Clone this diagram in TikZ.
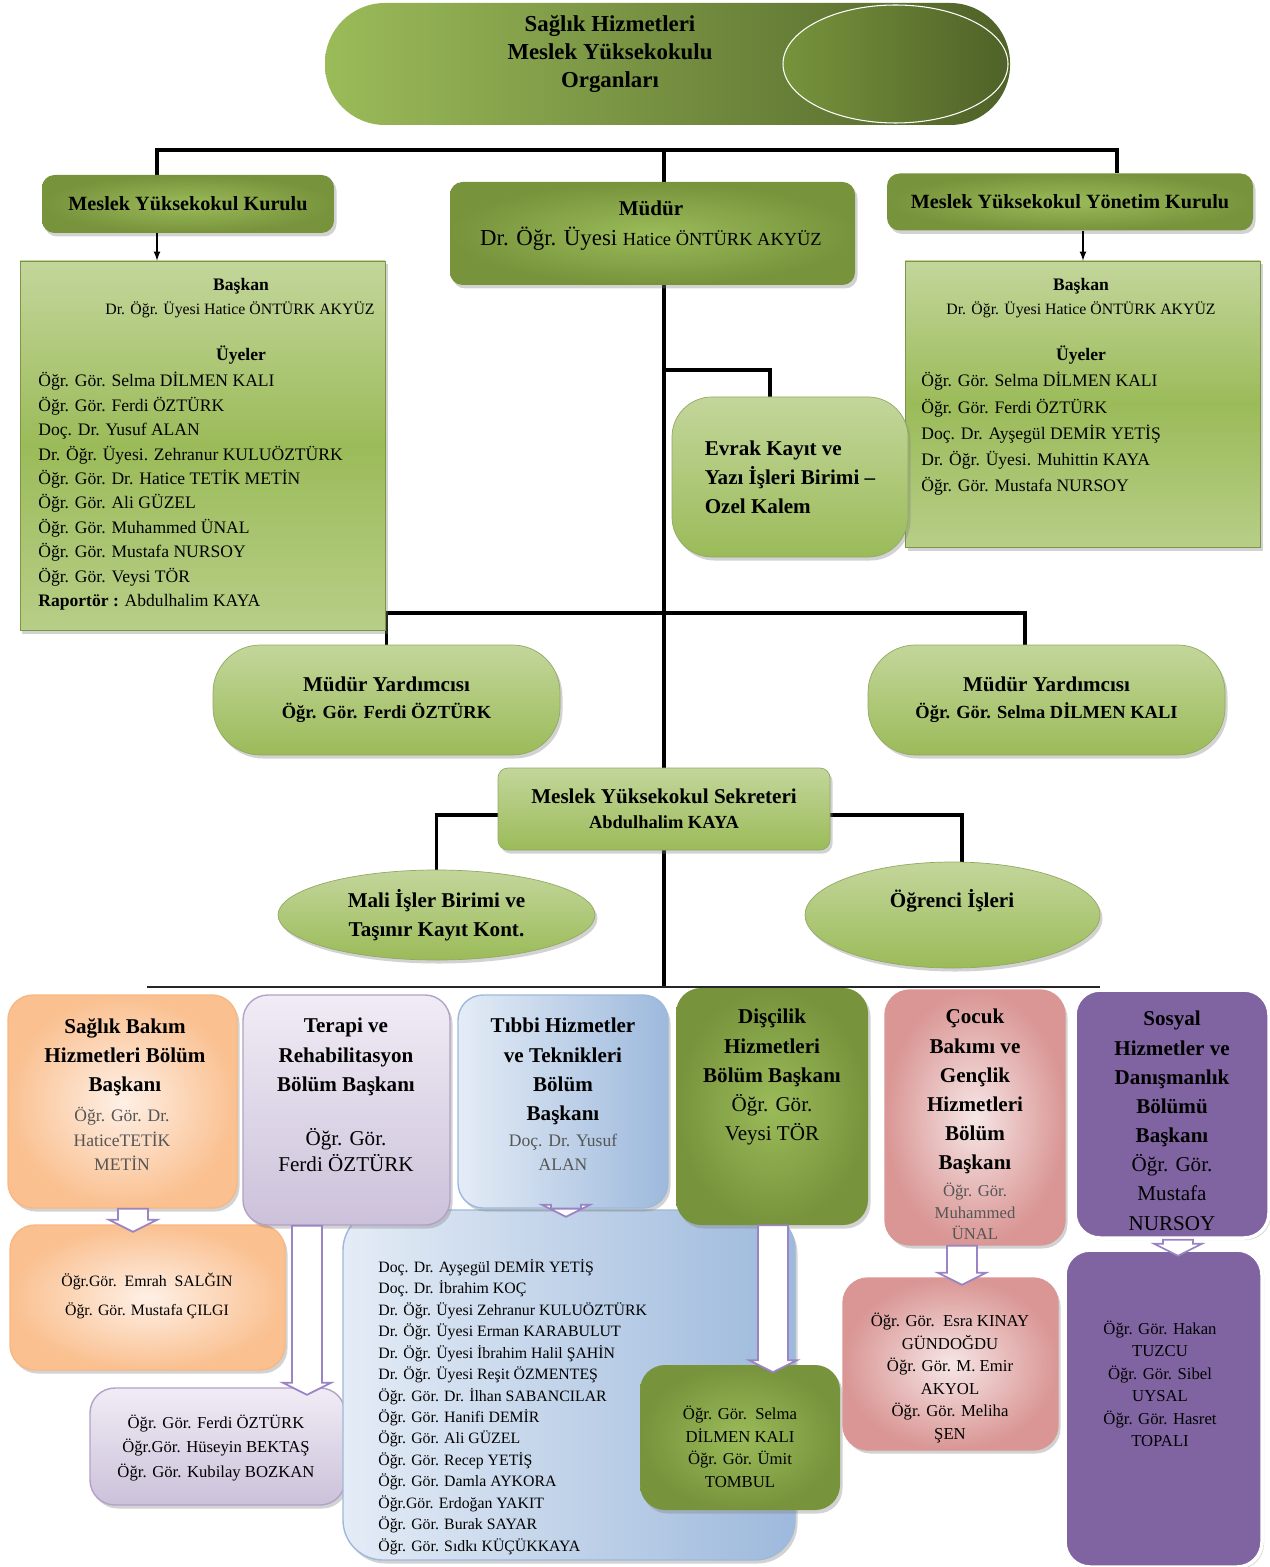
\documentclass[tikz,border=0pt]{standalone}
\usepackage{fontspec}
\setmainfont{Liberation Serif}
\usetikzlibrary{positioning,shapes.geometric,shadows,calc}

\definecolor{gdeep}{HTML}{4F6228}
\definecolor{gdark}{HTML}{77933C}
\definecolor{gmid}{HTML}{9BBB59}
\definecolor{gpale}{HTML}{C3D69B}
\definecolor{orgA}{HTML}{FAC090}
\definecolor{orgB}{HTML}{FEF0E6}
\definecolor{orgE}{HTML}{F9B784}
\definecolor{lavA}{HTML}{CCC1DA}
\definecolor{lavB}{HTML}{F0ECF5}
\definecolor{lavE}{HTML}{B3A2C7}
\definecolor{bluA}{HTML}{9DB9DC}
\definecolor{bluB}{HTML}{E4ECF6}
\definecolor{pnkA}{HTML}{D99694}
\definecolor{pnkB}{HTML}{F6E6E6}
\definecolor{pur}{HTML}{8064A2}
\definecolor{arrE}{HTML}{9A84C4}
\definecolor{namegray}{HTML}{555555}

\pgfdeclarelayer{bg}
\pgfsetlayers{bg,main}

\tikzset{
  sz/.style 2 args={minimum width=#1*0.02cm, minimum height=#2*0.02cm, inner sep=0pt},
  txt/.style={align=center, inner sep=0pt},
  conn/.style={line width=1.8pt},
  arr/.style={line width=0.8pt, -latex},
  busline/.style={line width=1.2pt, black!85},
  blockarr/.style={draw=arrE, fill=white, line width=1pt},
  shad/.style={drop shadow={opacity=0.35, shadow xshift=0.05cm, shadow yshift=-0.07cm}},
  titlebox/.style={rectangle, rounded corners=1.2cm, left color=gmid, right color=gdeep},
  titlecap/.style={ellipse, draw=white, line width=0.6pt, left color=gdark, right color=gdeep},
  darkbox/.style={rectangle, rounded corners=0.25cm, inner color=gmid, outer color=gdark, shad},
  membox/.style={rectangle, draw=gmid!80!black, top color=gpale, bottom color=gpale!70!gmid, middle color=gmid, shad},
  lightbox/.style={rectangle, rounded corners=0.95cm, draw=gdark!80, top color=gpale, bottom color=gmid, shad},
  secbox/.style={rectangle, rounded corners=0.2cm, draw=gdark!80, top color=gpale, bottom color=gmid, shad},
  oval/.style={ellipse, draw=gdark!80, top color=gpale, bottom color=gmid, shad},
  orgbox/.style={rectangle, rounded corners=0.5cm, draw=orgE, line width=0.8pt, inner color=orgB, outer color=orgA, shad},
  lavbox/.style={rectangle, rounded corners=0.5cm, draw=lavE, line width=0.8pt, top color=lavB, bottom color=lavA, shad},
  blubox/.style={rectangle, rounded corners=0.5cm, draw=bluA, line width=0.8pt, left color=bluB, right color=bluA, shad},
  olvbox/.style={rectangle, rounded corners=0.5cm, inner color=gmid, outer color=gdark, shad},
  pnkbox/.style={rectangle, rounded corners=0.5cm, draw=pnkA, line width=0.8pt, inner color=pnkB, outer color=pnkA, shad},
  purbox/.style={rectangle, rounded corners=0.5cm, draw=white, line width=2pt, fill=pur, drop shadow={opacity=0.3, shadow xshift=0.04cm, shadow yshift=-0.04cm}},
  hfont/.style={font=\fontsize{12}{16.6}\selectfont\bfseries},
  lfont/.style={font=\fontsize{10}{13.9}\selectfont},
  sfont/.style={font=\fontsize{9.5}{12.8}\selectfont},
}

% hollow block arrow: x position, from node, to node
\newcommand{\barrow}[3]{%
  \draw[blockarr] let \p1=(#1,0), \p2=(#2.south), \p3=([yshift=-0.15cm]#3.north) in
    (\x1-0.3cm,\y2) -- (\x1-0.3cm,\y3+0.24cm) -- (\x1-0.48cm,\y3+0.24cm) -- (\x1,\y3)
    -- (\x1+0.48cm,\y3+0.24cm) -- (\x1+0.3cm,\y3+0.24cm) -- (\x1+0.3cm,\y2) -- cycle;}

\begin{document}
\begin{tikzpicture}[x=0.02cm,y=-0.02cm]
\useasboundingbox (0,0) rectangle (1269,1567);
\begin{pgfonlayer}{bg}
  \fill[white] (0,0) rectangle (1269,1567);
\end{pgfonlayer}

% title
\node[titlebox, sz={685}{122}] (title) at (667.5,64) {};
\node[titlecap, sz={225}{118}] (cap) at (895.5,64) {};
\node[txt, font=\fontsize{13}{16}\selectfont\bfseries] (titletxt) at (610,54) {Sağlık Hizmetleri\\Meslek Yüksekokulu\\Organları};

% upper level
\node[darkbox, sz={292}{58}, font=\fontsize{11.5}{14}\selectfont\bfseries] (kurulu) at (188,204) {Meslek Yüksekokul Kurulu};
\node[darkbox, sz={405}{103}] (mudur) at (652.5,233.5) {};
\node[txt] (mudurtxt) at (651,226) {\fontsize{12}{15}\selectfont\bfseries Müdür\\[5pt]
  \fontsize{13}{15}\selectfont Dr. Öğr. Üyesi {\fontsize{10.5}{13}\selectfont Hatice ÖNTÜRK AKYÜZ}};
\node[darkbox, sz={366}{57}, font=\fontsize{11.5}{14}\selectfont\bfseries] (yonetim) at (1070,202) {Meslek Yüksekokul Yönetim Kurulu};

% members
\node[membox, sz={365}{369}] (uye1) at (202.5,445.5) {};
\node[txt, font=\fontsize{10}{12}\selectfont\bfseries] (u1bas) at (241,286) {Başkan};
\node[txt, font=\fontsize{9}{11}\selectfont] (u1pre) at (240,310) {Dr. Öğr. Üyesi Hatice ÖNTÜRK AKYÜZ};
\node[txt, font=\fontsize{10}{12}\selectfont\bfseries] (u1uye) at (241,355) {Üyeler};
\node[txt, lfont, align=left, anchor=north west] (u1list) at (38,372) {Öğr. Gör. Selma DİLMEN KALI\\
  Öğr. Gör. Ferdi ÖZTÜRK\\
  Doç. Dr. Yusuf ALAN\\
  Dr. Öğr. Üyesi. Zehranur KULUÖZTÜRK\\
  Öğr. Gör. Dr. Hatice TETİK METİN\\
  Öğr. Gör. Ali GÜZEL\\
  Öğr. Gör. Muhammed ÜNAL\\
  Öğr. Gör. Mustafa NURSOY\\
  Öğr. Gör. Veysi TÖR\\
  {\bfseries Raportör :} Abdulhalim KAYA};

\node[membox, sz={355}{286}] (uye2) at (1082.5,404) {};
\node[txt, font=\fontsize{10}{12}\selectfont\bfseries] (u2bas) at (1081,286) {Başkan};
\node[txt, font=\fontsize{9}{11}\selectfont] (u2pre) at (1081,310) {Dr. Öğr. Üyesi Hatice ÖNTÜRK AKYÜZ};
\node[txt, font=\fontsize{10}{12}\selectfont\bfseries] (u2uye) at (1081,355) {Üyeler};
\node[txt, font=\fontsize{10}{14.9}\selectfont, align=left, anchor=north west] (u2list) at (921,372) {Öğr. Gör. Selma DİLMEN KALI\\
  Öğr. Gör. Ferdi ÖZTÜRK\\
  Doç. Dr. Ayşegül DEMİR YETİŞ\\
  Dr. Öğr. Üyesi. Muhittin KAYA\\
  Öğr. Gör. Mustafa NURSOY};

% middle level
\node[lightbox, sz={236}{160}, rounded corners=0.8cm, hfont, align=left] (evrak) at (790,477) {Evrak Kayıt ve\\Yazı İşleri Birimi –\\Ozel Kalem};
\node[lightbox, sz={347}{110}, align=center] (my1) at (386.5,700) {\fontsize{12}{16}\selectfont\bfseries Müdür Yardımcısı\\[3.5pt]
  \fontsize{10.5}{16}\selectfont\bfseries Öğr. Gör. Ferdi ÖZTÜRK};
\node[lightbox, sz={357}{110}, align=center] (my2) at (1046.5,700) {\fontsize{12}{16}\selectfont\bfseries Müdür Yardımcısı\\[3.5pt]
  \fontsize{10.5}{16}\selectfont\bfseries Öğr. Gör. Selma DİLMEN KALI};
\node[secbox, sz={332}{82}, align=center] (sek) at (664,809) {\fontsize{12}{15}\selectfont\bfseries Meslek Yüksekokul Sekreteri\\[2pt]
  \fontsize{10.5}{15}\selectfont\bfseries Abdulhalim KAYA};
\node[oval, sz={317}{90}, hfont, align=center] (mali) at (436.5,915) {Mali İşler Birimi ve\\Taşınır Kayıt Kont.};
\node[oval, sz={295}{106}] (ogr) at (952.5,915) {};
\node[txt, hfont] (ogrtxt) at (952,901) {Öğrenci İşleri};

% staff boxes
\node[orgbox, sz={275}{145}] (s1) at (147.5,1297.5) {};
\node[txt, font=\fontsize{9}{17}\selectfont] (s1txt) at (147,1296) {Öğr.Gör.~~Emrah~~SALĞIN\\Öğr. Gör. Mustafa ÇILGI};
\node[lavbox, sz={255}{117}] (s2) at (217.5,1446.5) {};
\node[txt, font=\fontsize{9.5}{13.9}\selectfont] (s2txt) at (216,1448) {Öğr. Gör. Ferdi ÖZTÜRK\\Öğr.Gör. Hüseyin BEKTAŞ\\Öğr. Gör. Kubilay BOZKAN};
\node[blubox, sz={452}{350}, rounded corners=0.8cm] (s3) at (569,1385) {};
\node[txt, font=\fontsize{9}{12.2}\selectfont, align=left, anchor=north west] (s3list) at (378,1259) {Doç. Dr. Ayşegül DEMİR YETİŞ\\
  Doç. Dr. İbrahim KOÇ\\
  Dr. Öğr. Üyesi Zehranur KULUÖZTÜRK\\
  Dr. Öğr. Üyesi Erman KARABULUT\\
  Dr. Öğr. Üyesi İbrahim Halil ŞAHİN\\
  Dr. Öğr. Üyesi Reşit ÖZMENTEŞ\\
  Öğr. Gör. Dr. İlhan SABANCILAR\\
  Öğr. Gör. Hanifi DEMİR\\
  Öğr. Gör. Ali GÜZEL\\
  Öğr. Gör. Recep YETİŞ\\
  Öğr. Gör. Damla AYKORA\\
  Öğr.Gör. Erdoğan YAKIT\\
  Öğr. Gör. Burak SAYAR\\
  Öğr. Gör. Sıdkı KÜÇÜKKAYA};
\node[olvbox, sz={200}{145}] (s4) at (740,1437.5) {};
\node[txt, sfont] (s4txt) at (740,1447) {Öğr. Gör.~~Selma\\DİLMEN KALI\\Öğr. Gör. Ümit\\TOMBUL};
\node[pnkbox, sz={215}{172}] (s5) at (950.5,1364) {};
\node[txt, sfont] (s5txt) at (950,1378) {Öğr. Gör.~~Esra KINAY\\GÜNDOĞDU\\Öğr. Gör. M. Emir\\AKYOL\\Öğr. Gör. Meliha\\ŞEN};
\node[purbox, sz={197}{317}] (s6) at (1163.5,1408.5) {};
\node[txt, sfont] (s6txt) at (1160,1384) {Öğr. Gör. Hakan\\TUZCU\\Öğr. Gör. Sibel\\UYSAL\\Öğr. Gör. Hasret\\TOPALI};

% departments
\node[orgbox, sz={229}{213}] (d1) at (122.5,1101.5) {};
\node[txt, hfont, anchor=north] (d1h) at (125,1018) {Sağlık Bakım\\Hizmetleri Bölüm\\Başkanı};
\node[txt, font=\fontsize{10}{14}\selectfont, text=namegray, anchor=north] (d1n) at (122,1107) {Öğr. Gör. Dr.\\HaticeTETİK\\METİN};
\node[lavbox, sz={207}{230}] (d2) at (346.5,1110) {};
\node[txt, hfont, anchor=north] (d2h) at (346,1018) {Terapi ve\\Rehabilitasyon\\Bölüm Başkanı};
\node[txt, font=\fontsize{12}{14.7}\selectfont, anchor=north] (d2n) at (346,1128) {Öğr. Gör.\\Ferdi ÖZTÜRK};
\node[blubox, sz={210}{213}] (d3) at (563,1101.5) {};
\node[txt, hfont, anchor=north] (d3h) at (563,1018) {Tıbbi Hizmetler\\ve Teknikleri\\Bölüm\\Başkanı};
\node[txt, font=\fontsize{10}{13.6}\selectfont, text=namegray, anchor=north] (d3n) at (563,1134) {Doç. Dr. Yusuf\\ALAN};
\node[olvbox, sz={192}{237}] (d4) at (772,1106.5) {};
\node[txt, hfont, anchor=north] (d4h) at (772,1009) {Dişçilik\\Hizmetleri\\Bölüm Başkanı\\\mdseries Öğr. Gör.\\\mdseries Veysi TÖR};
\node[pnkbox, sz={180}{255}] (d5) at (975,1117.5) {};
\node[txt, hfont, anchor=north] (d5h) at (975,1009) {Çocuk\\Bakımı ve\\Gençlik\\Hizmetleri\\Bölüm\\Başkanı};
\node[txt, font=\fontsize{9.5}{12.2}\selectfont, text=namegray, anchor=north] (d5n) at (975,1183) {Öğr. Gör.\\Muhammed\\ÜNAL};
\node[purbox, sz={194}{248}] (d6) at (1172,1114) {};
\node[txt, hfont, anchor=north] (d6h) at (1172,1011) {Sosyal\\Hizmetler ve\\Danışmanlık\\Bölümü\\Başkanı\\\mdseries Öğr. Gör.\\\mdseries Mustafa\\\mdseries NURSOY};

% connectors
\coordinate (tb) at (664,150);
\coordinate (jev) at (664,370);
\coordinate (jmy) at (664,613);
\coordinate (bus) at (664,987);
\coordinate (busl) at (147,987);
\coordinate (busr) at (1100,987);
\begin{pgfonlayer}{bg}
  \draw[conn] ([xshift=-0.62cm]kurulu.north) |- (tb) -| ([xshift=0.94cm]yonetim.north);
  \draw[conn] (tb) -- (tb |- mudur.north);
  \draw[conn] (tb |- mudur.south) -- (bus);
  \draw[conn] (jev) -| ([xshift=-0.4cm]evrak.north);
  \draw[conn] (my1.north) |- (jmy) -| ([xshift=-0.43cm]my2.north);
  \draw[conn] ([yshift=-0.12cm]sek.west) -| (mali.north);
  \draw[conn] ([yshift=-0.12cm]sek.east) -| ([xshift=0.19cm]ogr.north);
  \draw[busline] (busl) -- (busr);
\end{pgfonlayer}
\draw[arr] ([xshift=-0.62cm]kurulu.south) -- ([xshift=-0.62cm]kurulu.south |- uye1.north);
\draw[arr] ([xshift=0.26cm]yonetim.south) -- ([xshift=0.26cm]yonetim.south |- uye2.north);

\barrow{133}{d1}{s1}
\barrow{307}{d2}{s2}
\barrow{566}{d3}{s3}
\barrow{773}{d4}{s4}
\barrow{962}{d5}{s5}
\barrow{1178}{d6}{s6}
\end{tikzpicture}
\end{document}
